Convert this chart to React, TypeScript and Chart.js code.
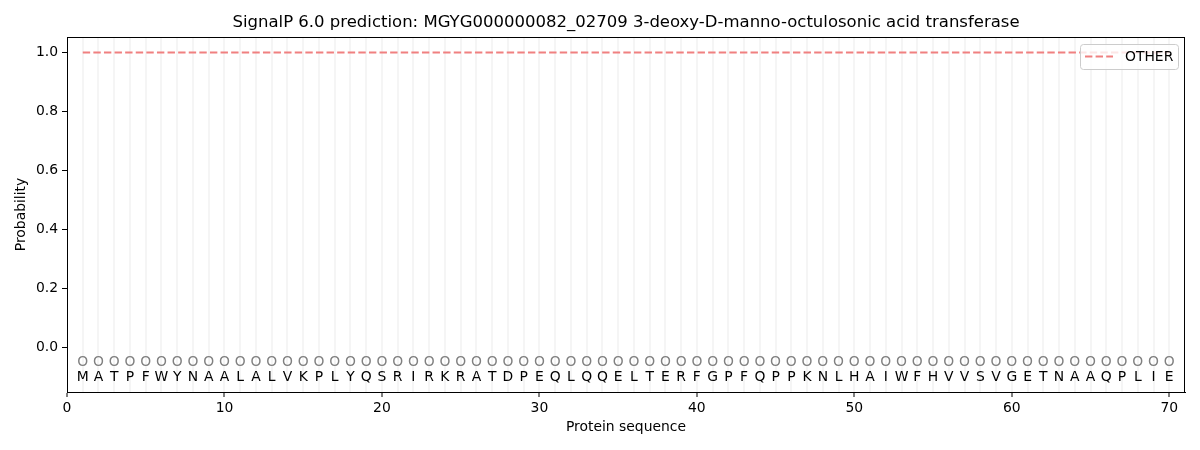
import React, { useEffect, useRef } from "react";
import { Chart, registerables } from "chart.js";

Chart.register(...registerables);

const TITLE = "SignalP 6.0 prediction: MGYG000000082_02709 3-deoxy-D-manno-octulosonic acid transferase";
const residues = "MATPFWYNAALALVKPLYQSRIRKRATDPEQLQQELTERFGPFQPPKNLHAIWFHVVSVGETNAAQPLIE".split("");
const positions = residues.map((_, i) => i + 1);
const otherProb = [
  1, 1, 1, 1, 1, 1, 1, 1, 1, 1,
  1, 1, 1, 1, 1, 1, 1, 1, 1, 1,
  1, 1, 1, 1, 1, 1, 1, 1, 1, 1,
  1, 1, 1, 1, 1, 1, 1, 1, 1, 1,
  1, 1, 1, 1, 1, 1, 1, 1, 1, 1,
  1, 1, 1, 1, 1, 1, 1, 1, 1, 1,
  1, 1, 1, 1, 1, 1, 1, 1, 1, 1,
];
const yTicks = [0, 0.2, 0.4, 0.6, 0.8, 1.0];
const markerY = -0.05;
const letterY = -0.1;

const FONT = "'DejaVu Sans', sans-serif";
const LINE_COLOR = "#F08080";
const DASH = [7.4, 3.2];

const overlay = {
  id: "overlay",
  afterDraw(chart: any) {
    const { ctx, chartArea, scales } = chart;
    const xs = scales.x;
    const ys = scales.y;
    ctx.save();
    // frame
    ctx.strokeStyle = "#000";
    ctx.lineWidth = 1;
    ctx.strokeRect(Math.round(chartArea.left) + 0.5, Math.round(chartArea.top) + 0.5,
      Math.round(chartArea.right - chartArea.left) - 1, Math.round(chartArea.bottom - chartArea.top));
    // markers and letters
    ctx.font = `13.9px ${FONT}`;
    ctx.textAlign = "center";
    ctx.textBaseline = "middle";
    residues.forEach((r, i) => {
      const x = xs.getPixelForValue(positions[i]);
      ctx.fillStyle = "#808080";
      ctx.fillText("O", x, ys.getPixelForValue(markerY));
      ctx.fillStyle = "#000";
      ctx.fillText(r, x, ys.getPixelForValue(letterY));
    });
    // title
    ctx.font = `16.5px ${FONT}`;
    ctx.fillStyle = "#000";
    ctx.fillText(TITLE, (chartArea.left + chartArea.right) / 2, 23);
    // legend
    const lx = 1080, ly = 44, lw = 98, lh = 25;
    ctx.fillStyle = "rgba(255,255,255,0.8)";
    ctx.strokeStyle = "#cccccc";
    ctx.lineWidth = 1;
    ctx.beginPath();
    (ctx as any).roundRect(lx + 0.5, ly + 0.5, lw, lh, 3);
    ctx.fill();
    ctx.stroke();
    ctx.strokeStyle = LINE_COLOR;
    ctx.lineWidth = 2;
    ctx.setLineDash(DASH);
    ctx.beginPath();
    ctx.moveTo(lx + 5, ly + 12.5);
    ctx.lineTo(lx + 33, ly + 12.5);
    ctx.stroke();
    ctx.setLineDash([]);
    ctx.fillStyle = "#000";
    ctx.textAlign = "left";
    ctx.font = `13.9px ${FONT}`;
    ctx.fillText("OTHER", lx + 45, ly + 13);
    ctx.restore();
  },
};

export default function App() {
  const ref = useRef<HTMLCanvasElement | null>(null);
  useEffect(() => {
    if (!ref.current) return;
    Chart.defaults.font.family = FONT;
    const chart = new Chart(ref.current, {
      type: "line",
      data: {
        datasets: [
          {
            label: "OTHER",
            data: positions.map((p, i) => ({ x: p, y: otherProb[i] })),
            borderColor: LINE_COLOR,
            borderWidth: 2,
            borderDash: DASH,
            pointRadius: 0,
            fill: false,
          },
        ],
      },
      plugins: [overlay],
      options: {
        animation: false,
        responsive: false,
        maintainAspectRatio: false,
        layout: { padding: { top: 37, right: 15, left: 0, bottom: 0 } },
        plugins: { legend: { display: false }, tooltip: { enabled: false }, title: { display: false } },
        scales: {
          x: {
            type: "linear",
            min: 0,
            max: 71,
            afterFit: (s: any) => { s.height = 58; },
            ticks: {
              stepSize: 1,
              autoSkip: false,
              maxRotation: 0,
              padding: 3,
              color: "#000",
              font: { size: 13.9, family: FONT },
              callback: (v: any) => (Number(v) % 10 === 0 ? String(v) : ""),
            },
            grid: {
              color: (c: any) => (c.tick && c.tick.value >= 1 && c.tick.value <= 70 ? "rgba(0,0,0,0.04)" : "transparent"),
              tickColor: (c: any) => (c.tick && c.tick.value % 10 === 0 ? "#000" : "transparent"),
              tickLength: 5,
              tickWidth: 1,
              lineWidth: 2,
            },
            border: { display: true, color: "#000", width: 1 },
            title: {
              display: true,
              text: "Protein sequence",
              color: "#000",
              font: { size: 13.9, family: FONT },
              padding: { top: 0, bottom: 14 },
            },
          },
          y: {
            type: "linear",
            min: -0.151,
            max: 1.0525,
            afterFit: (s: any) => { s.width = 67; },
            afterBuildTicks: (s: any) => { s.ticks = yTicks.map((v) => ({ value: v })); },
            ticks: {
              color: "#000",
              padding: 4,
              font: { size: 13.9, family: FONT },
              callback: (v: any) => Number(v).toFixed(1),
            },
            grid: {
              drawOnChartArea: false,
              drawTicks: true,
              tickLength: 5,
              tickColor: "#000",
            },
            border: { display: true, color: "#000", width: 1 },
            title: {
              display: true,
              text: "Probability",
              color: "#000",
              font: { size: 13.9, family: FONT },
              padding: { top: 13, bottom: 0 },
            },
          },
        },
      },
    });
    return () => chart.destroy();
  }, []);
  return (
    <div style={{ position: "absolute", left: 0, top: 0, width: 1200, height: 450, background: "#fff" }}>
      <canvas ref={ref} width={1200} height={450} style={{ width: 1200, height: 450 }} />
    </div>
  );
}
